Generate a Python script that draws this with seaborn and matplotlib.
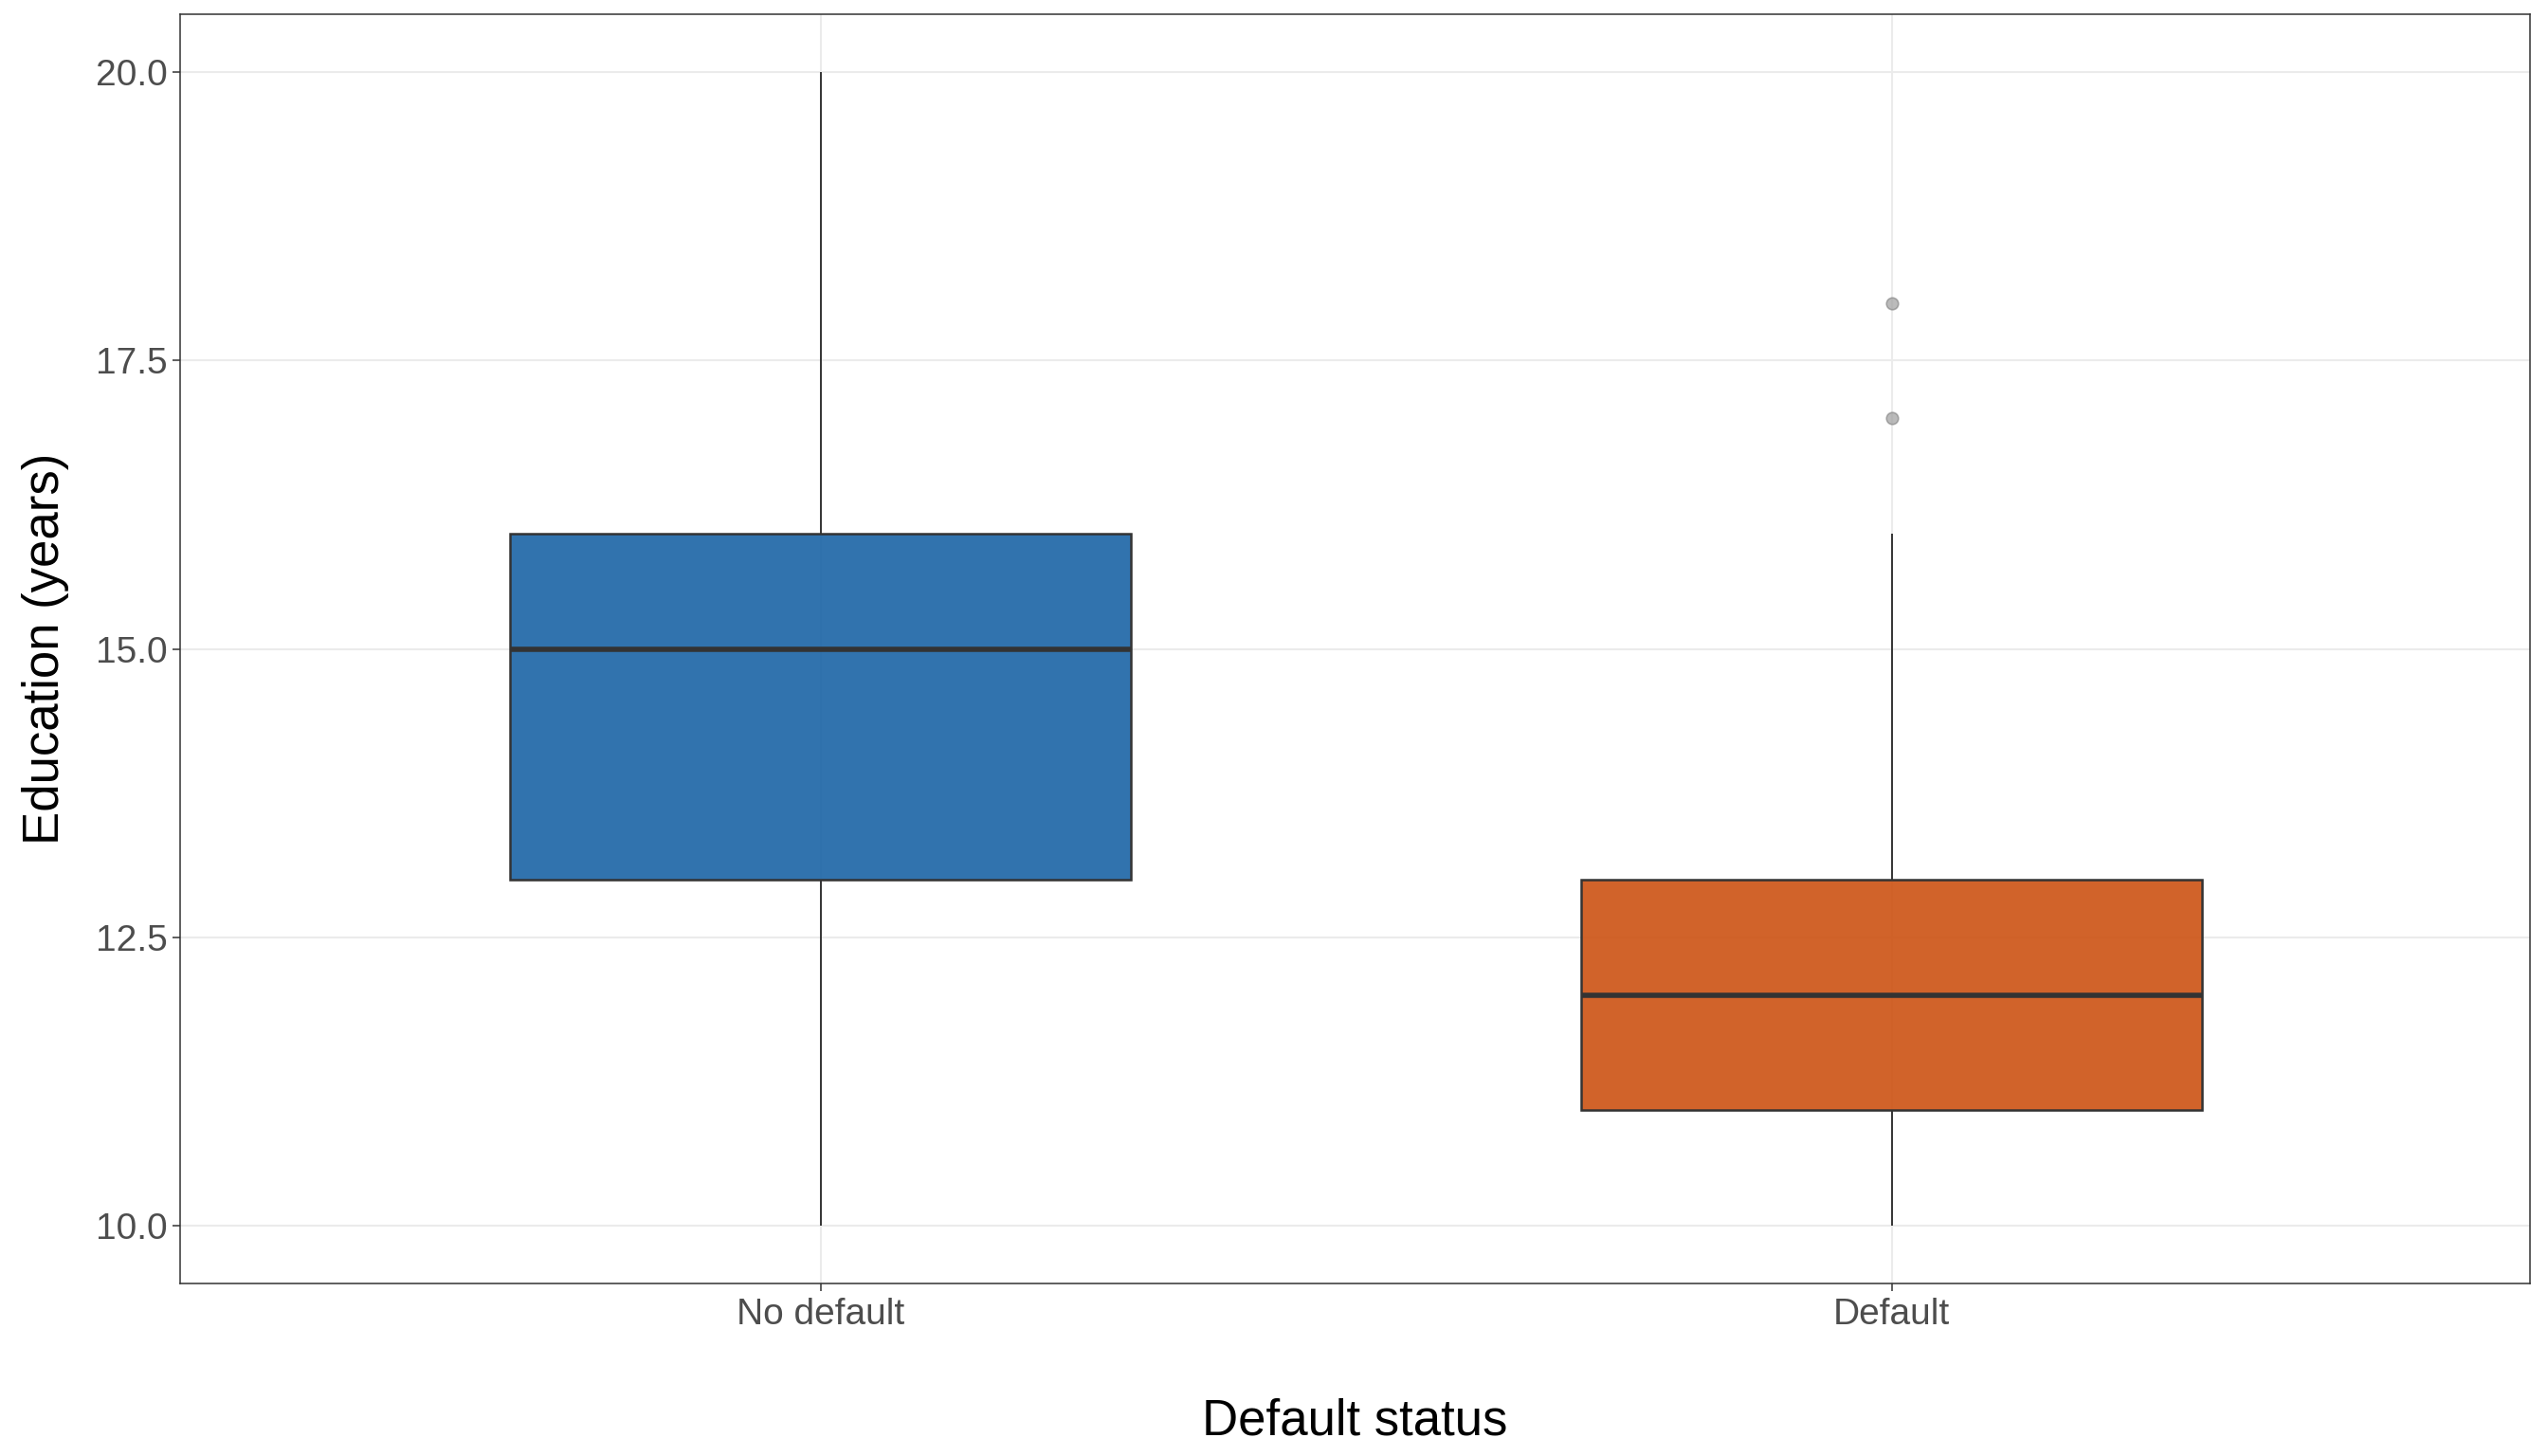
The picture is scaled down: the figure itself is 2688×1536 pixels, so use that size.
import pandas as pd
import numpy as np
import matplotlib
matplotlib.use("Agg")
import matplotlib.pyplot as plt
import matplotlib.colors as mcolors
import seaborn as sns

# Data: years of education per borrower, by default status
status_order = ["No default", "Default"]
edu_no_default = [10, 12, 13, 14, 15, 15, 16, 17, 20]
edu_default = [10, 11, 11, 11, 12, 12, 12, 12, 13, 13, 16, 17, 18]
box_colors = ["#1a64a5", "#cc5213"]

df = pd.DataFrame({
    "status": ["No default"] * len(edu_no_default) + ["Default"] * len(edu_default),
    "education": edu_no_default + edu_default,
})

sns.set_style("white")
plt.rcParams["font.family"] = ["Liberation Sans", "DejaVu Sans"]

fig = plt.figure(figsize=(13.44, 7.68), dpi=200)
ax = fig.add_axes([0.0707, 0.1185, 0.9223, 0.8715])

sns.boxplot(data=df, x="status", y="education", hue="status", order=status_order,
            hue_order=status_order, palette=box_colors, saturation=1, width=0.58,
            linewidth=0.9, linecolor="#333333", showcaps=False, legend=False,
            medianprops=dict(linewidth=2.0, color="#333333"),
            whiskerprops=dict(linewidth=0.7, color="#333333"),
            flierprops=dict(marker="o", markersize=4.5, markerfacecolor="#9e9e9e",
                            markeredgecolor="#8a8a8a", markeredgewidth=0.6, alpha=0.7),
            ax=ax)

# semi-transparent box fill
for p in ax.patches:
    fc = p.get_facecolor()
    p.set_facecolor(mcolors.to_rgba(fc, 0.9))

ax.set_xlim(-0.598, 1.596)
ax.set_ylim(9.5, 20.5)
ax.set_yticks([10, 12.5, 15, 17.5, 20])
ax.set_yticklabels(["10.0", "12.5", "15.0", "17.5", "20.0"])

ax.set_axisbelow(True)
ax.grid(True, color="#ebebeb", linewidth=0.75)
for s in ax.spines.values():
    s.set_color("#333333")
    s.set_linewidth(0.55)
    s.set_visible(True)

ax.tick_params(axis="both", length=2.75, width=0.55, color="#333333",
               labelsize=14, labelcolor="#4d4d4d", left=True, bottom=True)
ax.tick_params(axis="y", pad=2)
ax.tick_params(axis="x", pad=2.5)
ax.set_xlabel("Default status", fontsize=19, color="black", labelpad=25)
ax.set_ylabel("Education (years)", fontsize=19, color="black", labelpad=10)

fig.savefig("out.png", dpi=200)
